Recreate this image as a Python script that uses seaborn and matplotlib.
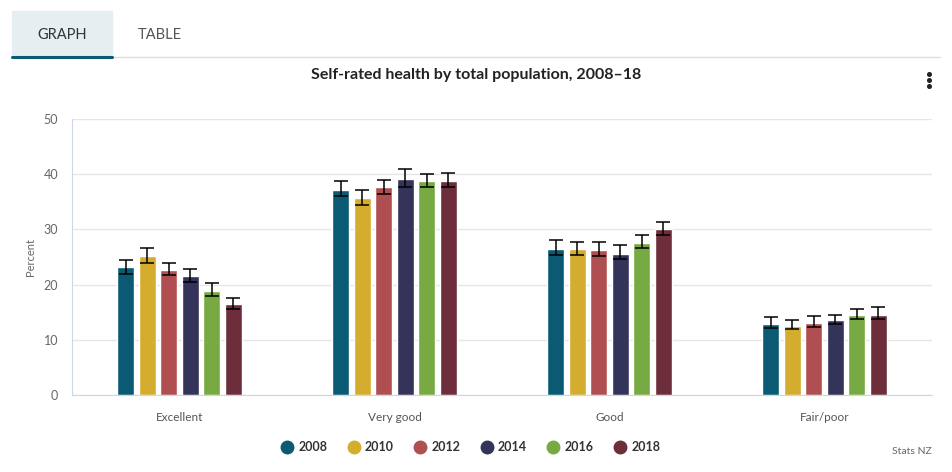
import pandas as pd
import numpy as np
import seaborn as sns
import matplotlib.pyplot as plt
from matplotlib.lines import Line2D
from matplotlib.patches import Rectangle

# Data
categories = ["Excellent", "Very good", "Good", "Fair/poor"]
years = ["2008", "2010", "2012", "2014", "2016", "2018"]
values = {
    "2008": [23.1, 37.1, 26.5, 12.9],
    "2010": [25.1, 35.6, 26.4, 12.5],
    "2012": [22.7, 37.6, 26.2, 13.1],
    "2014": [21.5, 39.1, 25.6, 13.5],
    "2016": [18.9, 38.7, 27.5, 14.5],
    "2018": [16.4, 38.7, 30.0, 14.5],
}
lower = {
    "2008": [22.0, 36.1, 25.4, 12.1],
    "2010": [23.9, 34.5, 25.4, 11.9],
    "2012": [21.8, 36.5, 25.2, 12.3],
    "2014": [20.5, 37.7, 24.7, 12.9],
    "2016": [17.9, 37.6, 26.7, 13.8],
    "2018": [15.6, 37.6, 28.9, 13.8],
}
upper = {
    "2008": [24.5, 38.8, 28.1, 14.1],
    "2010": [26.6, 37.2, 27.8, 13.6],
    "2012": [23.9, 39.0, 27.8, 14.3],
    "2014": [22.9, 40.9, 27.2, 14.5],
    "2016": [20.3, 40.1, 28.9, 15.6],
    "2018": [17.6, 40.3, 31.4, 15.9],
}
palette = ["#0b5a73", "#d4ac2e", "#b04f52", "#34335a", "#77aa43", "#6e2d3a"]

rows = []
for y in years:
    for i, c in enumerate(categories):
        rows.append({"category": c, "year": y, "value": values[y][i],
                     "lo": lower[y][i], "hi": upper[y][i]})
df = pd.DataFrame(rows)

sns.set_style("white")
plt.rcParams["font.family"] = ["Lato", "DejaVu Sans"]

fig = plt.figure(figsize=(9.53, 4.72), dpi=100)
ax = fig.add_axes([72 / 953, 77 / 472, 860 / 953, 276 / 472])

sns.barplot(data=df, x="category", y="value", hue="year", order=categories,
            hue_order=years, palette=palette, width=0.6, gap=0.2,
            errorbar=None, saturation=1, legend=False, ax=ax, zorder=2)

# error bars at the bar centres
for yi, y in enumerate(years):
    cont = ax.containers[yi]
    sub = df[df["year"] == y].set_index("category").loc[categories]
    xs = [p.get_x() + p.get_width() / 2 for p in cont.patches]
    err = [sub["value"] - sub["lo"], sub["hi"] - sub["value"]]
    ax.errorbar(xs, sub["value"], yerr=err, fmt="none", ecolor="black",
                elinewidth=1.1, capsize=5, capthick=1.1, zorder=3)

ax.set_ylim(0, 50)
ax.set_xlim(-0.5, 3.5)
ax.set_yticks(range(0, 51, 10))
ax.yaxis.grid(True, color="#e6e6e6", lw=1, zorder=0)
ax.set_axisbelow(True)
for s in ["top", "right"]:
    ax.spines[s].set_visible(False)
ax.spines["left"].set_color("#ccd6eb")
ax.spines["bottom"].set_color("#ccd6eb")
ax.tick_params(axis="y", length=0, labelsize=9, colors="#666666", pad=10)
ax.tick_params(axis="x", length=9, color="#ccd6eb", labelsize=8.5,
               labelcolor="#555555", pad=3)
ax.set_xlabel("")
ax.set_ylabel("Percent", fontsize=8, color="#666666")
ax.yaxis.set_label_coords(-36 / 860, 0.5)

# Tabs header
fig.patches.append(Rectangle((12 / 953, 1 - 56 / 472), 100 / 953, 45 / 472,
                             transform=fig.transFigure, color="#e6eef1", zorder=0))
fig.add_artist(Line2D([12 / 953, 940 / 953], [1 - 57 / 472] * 2,
                      transform=fig.transFigure, color="#dddddd", lw=1))
fig.add_artist(Line2D([12 / 953, 112 / 953], [1 - 57 / 472] * 2,
                      transform=fig.transFigure, color="#0b5a73", lw=2.2))
fig.text(62 / 953, 1 - 35 / 472, "GRAPH", ha="center", va="center",
         fontsize=10.5, color="#333333")
fig.text(160 / 953, 1 - 35 / 472, "TABLE", ha="center", va="center",
         fontsize=10.5, color="#555555")

fig.text(476 / 953, 1 - 75 / 472, "Self-rated health by total population, 2008\u201318",
         ha="center", va="center", fontsize=11.5, fontweight="bold", color="#222222")
for dy in (74, 80, 86):
    fig.add_artist(Line2D([929.5 / 953], [1 - dy / 472], marker="o", markersize=2.6,
                          color="#222222", transform=fig.transFigure))

# legend
handles = [Line2D([], [], marker="o", ls="", markersize=9, color=c) for c in palette]
fig.legend(handles, years, loc="center", bbox_to_anchor=(470 / 953, 1 - 447 / 472),
           ncol=6, frameon=False, handletextpad=0.3, columnspacing=1.5,
           handlelength=1.2, prop={"size": 9, "weight": "bold"}, labelcolor="#333333")

fig.text(932 / 953, 1 - 452 / 472, "Stats NZ", ha="right", va="center",
         fontsize=7.5, color="#666666")

fig.savefig("out.png", dpi=100)
